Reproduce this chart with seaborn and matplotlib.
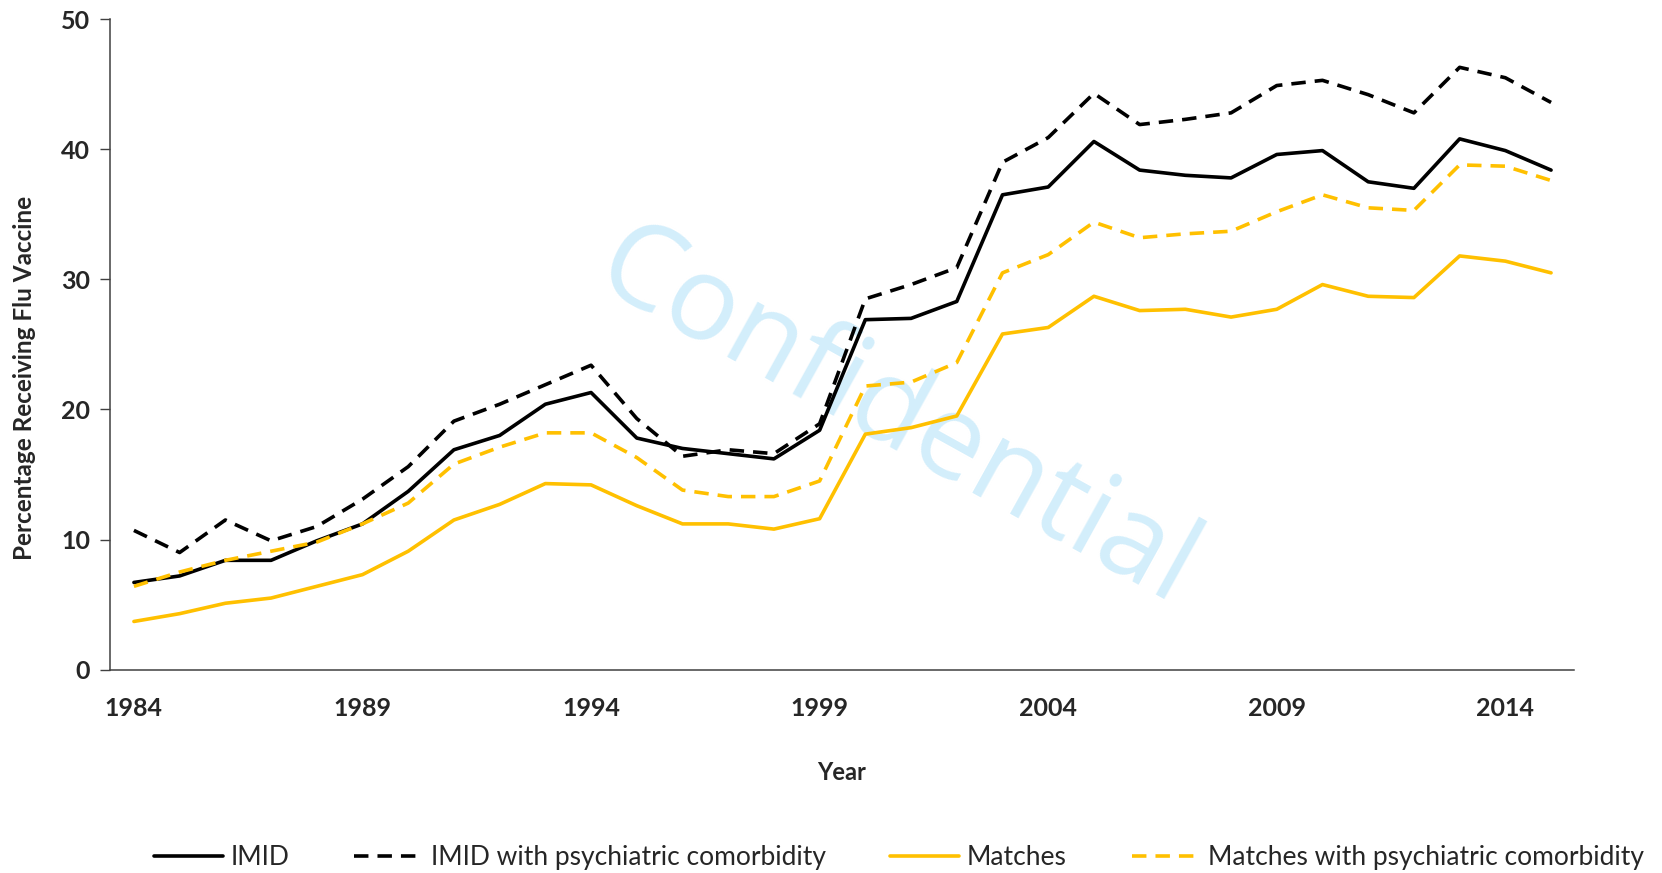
import numpy as np
import pandas as pd
import seaborn as sns
import matplotlib.pyplot as plt

# Data
years = list(range(1984, 2016))

imid = [6.7, 7.2, 8.4, 8.4, 9.9, 11.2, 13.7, 16.9, 18.0, 20.4, 21.3, 17.8, 17.0, 16.6, 16.2, 18.4,
        26.9, 27.0, 28.3, 36.5, 37.1, 40.6, 38.4, 38.0, 37.8, 39.6, 39.9, 37.5, 37.0, 40.8, 39.9, 38.4]
imid_psych = [10.7, 9.0, 11.5, 9.9, 11.0, 13.1, 15.6, 19.1, 20.4, 21.9, 23.4, 19.3, 16.4, 16.9, 16.6, 18.9,
              28.5, 29.6, 30.9, 39.0, 40.9, 44.3, 41.9, 42.3, 42.8, 44.9, 45.3, 44.2, 42.8, 46.3, 45.5, 43.6]
matches = [3.7, 4.3, 5.1, 5.5, 6.4, 7.3, 9.1, 11.5, 12.7, 14.3, 14.2, 12.6, 11.2, 11.2, 10.8, 11.6,
           18.1, 18.6, 19.5, 25.8, 26.3, 28.7, 27.6, 27.7, 27.1, 27.7, 29.6, 28.7, 28.6, 31.8, 31.4, 30.5]
matches_psych = [6.4, 7.5, 8.4, 9.1, 9.8, 11.2, 12.8, 15.8, 17.1, 18.2, 18.2, 16.3, 13.8, 13.3, 13.3, 14.5,
                 21.8, 22.1, 23.6, 30.5, 31.9, 34.4, 33.2, 33.5, 33.7, 35.2, 36.5, 35.5, 35.3, 38.8, 38.7, 37.6]

series_names = ["IMID", "IMID with psychiatric comorbidity", "Matches", "Matches with psychiatric comorbidity"]
xticks = [1984, 1989, 1994, 1999, 2004, 2009, 2014]
yticks = [0, 10, 20, 30, 40, 50]

df = pd.DataFrame({"Year": years * 4,
                   "value": imid + imid_psych + matches + matches_psych,
                   "series": np.repeat(series_names, len(years))})

sns.set_style("white")
plt.rcParams['font.family'] = ['Lato', 'DejaVu Sans']

fig, ax = plt.subplots(figsize=(16.62, 8.73), dpi=100)
fig.subplots_adjust(left=0.066, right=0.947, top=0.978, bottom=0.233)

palette = {"IMID": "black", "IMID with psychiatric comorbidity": "black",
           "Matches": "#FFC000", "Matches with psychiatric comorbidity": "#FFC000"}
dashes = {"IMID": "", "IMID with psychiatric comorbidity": (4, 2.5),
          "Matches": "", "Matches with psychiatric comorbidity": (4, 2.5)}

sns.lineplot(data=df, x="Year", y="value", hue="series", style="series",
             hue_order=series_names, style_order=series_names,
             palette=palette, dashes=dashes, linewidth=2.6, ax=ax, legend=True)

# watermark
ax.text(0.537, 0.384, "Confidential", transform=ax.transAxes, fontsize=85,
        color="#d3eefb", rotation=-29, ha="center", va="center", zorder=0,
        family="Open Sans")

ax.set_xlim(1983.47, 2015.5)
ax.set_ylim(0, 50)
ax.set_xticks(xticks)
ax.set_yticks(yticks)
for lbl in ax.get_xticklabels() + ax.get_yticklabels():
    lbl.set_fontweight("bold")
    lbl.set_fontsize(18)
ax.tick_params(axis="x", length=0, pad=20)
ax.tick_params(axis="y", length=7, width=1, pad=7, color="#404040", direction="out", left=True)

sns.despine(ax=ax)
for s in ["left", "bottom"]:
    ax.spines[s].set_color("#404040")
    ax.spines[s].set_linewidth(1.1)

ax.set_xlabel("Year", fontsize=17, fontweight="bold")
ax.xaxis.set_label_coords(0.5, -0.14)
ax.set_ylabel("Percentage Receiving Flu Vaccine", fontsize=17.5, fontweight="bold")
ax.yaxis.set_label_coords(-0.05, 0.449)

handles, labels = ax.get_legend_handles_labels()
ax.get_legend().remove()
fig.legend(handles, labels, loc="center", bbox_to_anchor=(0.541, 0.018), ncol=4,
           frameon=False, fontsize=19, handlelength=2.6, columnspacing=2.45, handletextpad=0.3)

plt.savefig("out.png", dpi=100)
